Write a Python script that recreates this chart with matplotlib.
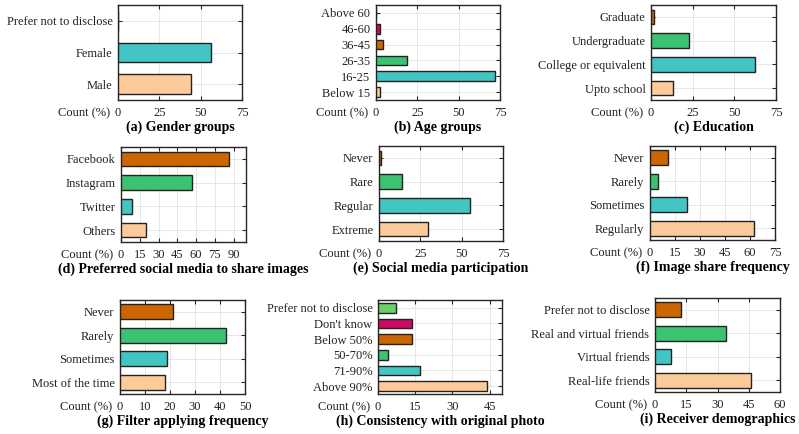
import matplotlib
matplotlib.use('Agg')
import matplotlib.pyplot as plt

plt.rcParams['font.family'] = ['Liberation Serif', 'DejaVu Serif']
plt.rcParams['font.size'] = 9

PEACH = '#FDCB9A'
TEAL = '#42C5C3'
GREEN = '#3CC372'
ORANGE = '#CC6600'
MAGENTA = '#CC0A66'
LIGHTGREEN = '#6BCF6A'

# survey answers, listed bottom to top, values in percent
gender_labels = ['Male', 'Female', 'Prefer not to disclose']
gender_vals = [44, 56, 0]

age_labels = ['Below 15', '16-25', '26-35', '36-45', '46-60', 'Above 60']
age_vals = [2.2, 72, 18.5, 4, 2.2, 0]

edu_labels = ['Upto school', 'College or equivalent', 'Undergraduate', 'Graduate']
edu_vals = [13, 62.5, 23, 1.5]

media_labels = ['Others', 'Twitter', 'Instagram', 'Facebook']
media_vals = [20, 8.5, 57, 86]

part_labels = ['Extreme', 'Regular', 'Rare', 'Never']
part_vals = [29.5, 55.3, 14, 1.5]

share_labels = ['Regularly', 'Sometimes', 'Rarely', 'Never']
share_vals = [62.3, 22, 5, 10.5]

filter_labels = ['Most of the time', 'Sometimes', 'Rarely', 'Never']
filter_vals = [17.8, 18.6, 42.2, 21]

consist_labels = ['Above 90%', '71-90%', '50-70%', 'Below 50%', "Don't know",
                  'Prefer not to disclose']
consist_vals = [43.8, 17, 4.2, 13.8, 13.8, 7.4]

recv_labels = ['Real-life friends', 'Virtual friends', 'Real and virtual friends',
               'Prefer not to disclose']
recv_vals = [46.2, 7.5, 34.2, 12.5]

panels = [
    (gender_labels, gender_vals, [PEACH, TEAL, GREEN], 75, range(0, 76, 25),
     '(a) Gender groups', (118, 5, 242, 100)),
    (age_labels, age_vals, [PEACH, TEAL, GREEN, ORANGE, MAGENTA, LIGHTGREEN], 75,
     range(0, 76, 25), '(b) Age groups', (376, 5, 500, 100)),
    (edu_labels, edu_vals, [PEACH, TEAL, GREEN, ORANGE], 75, range(0, 76, 25),
     '(c) Education', (651, 5, 776, 100)),
    (media_labels, media_vals, [PEACH, TEAL, GREEN, ORANGE], 100, range(0, 91, 15),
     '(d) Preferred social media to share images', (121, 147, 246, 242)),
    (part_labels, part_vals, [PEACH, TEAL, GREEN, ORANGE], 75, range(0, 76, 25),
     '(e) Social media participation', (379, 146, 503, 241)),
    (share_labels, share_vals, [PEACH, TEAL, GREEN, ORANGE], 75, range(0, 76, 15),
     '(f) Image share frequency', (650, 146, 775, 240)),
    (filter_labels, filter_vals, [PEACH, TEAL, GREEN, ORANGE], 50, range(0, 51, 10),
     '(g) Filter applying frequency', (120, 300, 245, 394)),
    (consist_labels, consist_vals, [PEACH, TEAL, GREEN, ORANGE, MAGENTA, LIGHTGREEN],
     50, range(0, 46, 15), '(h) Consistency with original photo', (378, 300, 502, 394)),
    (recv_labels, recv_vals, [PEACH, TEAL, GREEN, ORANGE], 60, range(0, 61, 15),
     '(i) Receiver demographics', (655, 298, 780, 392)),
]

W, H = 799, 434
fig = plt.figure(figsize=(W / 100, H / 100), dpi=100)

for labels, vals, colors, xmax, ticks, title, box in panels:
    x0, y0, x1, y1 = box
    ax = fig.add_axes([x0 / W, 1 - y1 / H, (x1 - x0) / W, (y1 - y0) / H])
    pos = range(len(labels))
    ax.barh(pos, vals, height=0.62, color=colors, edgecolor='#222222',
            linewidth=1.0, zorder=3)
    ax.set_xlim(0, xmax)
    ax.set_ylim(-0.5, len(labels) - 0.5)
    ax.set_xticks(list(ticks))
    ax.set_yticks(list(pos))
    ax.set_yticklabels(labels)
    ax.grid(True, color='#e6e6e6', linewidth=0.7, zorder=0)
    ax.set_axisbelow(True)
    ax.tick_params(direction='in', length=3, width=0.8, top=True, right=True,
                   colors='#262626', labelcolor='#222222', pad=4)
    ax.tick_params(axis='x', pad=5)
    for s in ax.spines.values():
        s.set_color('#262626')
        s.set_linewidth(1.0)
    ax.annotate('Count (%)', xy=(0, 0), xycoords='axes fraction',
                xytext=(-6, -5), textcoords='offset points',
                ha='right', va='top', color='#222222')
    ax.set_xlabel(title, fontsize=10, fontweight='bold', labelpad=1)

fig.savefig('out.png', dpi=100)
